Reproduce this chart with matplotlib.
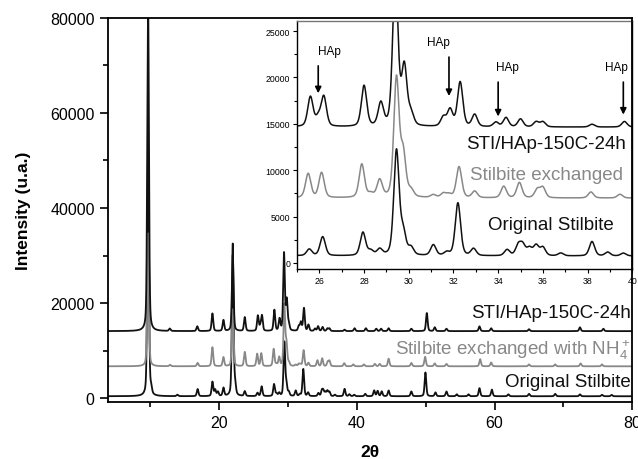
import numpy as np
import matplotlib
matplotlib.use("Agg")
import matplotlib.pyplot as plt
from matplotlib.ticker import MultipleLocator

plt.rcParams['font.family'] = ['Liberation Sans', 'DejaVu Sans']
plt.rcParams['mathtext.default'] = 'regular'

# peak positions (2theta, deg) and heights (counts above baseline)
orig_pos = [9.65, 10.1, 13.9, 16.85, 19.0, 19.4, 19.8, 20.6, 21.95, 22.3, 23.7, 25.55, 26.15,
            27.95, 28.3, 28.7, 29.45, 29.75, 30.1, 31.1, 31.7, 32.2, 32.9, 34.4, 34.9, 35.1,
            35.4, 35.7, 36.0, 36.8, 38.2, 38.9, 39.6, 41.2, 42.5, 43.0, 43.6, 44.6, 47.9,
            49.95, 51.4, 53.0, 54.5, 56.2, 57.8, 59.6, 62.0, 65.0, 68.8, 72.4, 75.6, 77.0]
orig_h = [52000, 1200, 300, 1500, 3000, 1300, 900, 1700, 32000, 2000, 1000, 700, 2050,
          2500, 500, 650, 11300, 2400, 800, 1150, 350, 5700, 750, 650, 1100, 1100,
          800, 1100, 900, 300, 1550, 400, 300, 500, 1200, 1100, 1000, 1200, 1000,
          5000, 800, 1000, 400, 400, 1700, 1400, 400, 500, 500, 400, 300, 300]

exch_pos = [9.65, 12.85, 16.85, 19.0, 20.6, 21.95, 23.7, 25.5, 26.1, 27.9, 28.3, 28.7, 29.45,
            29.75, 30.1, 31.1, 31.55, 31.8, 32.25, 32.95, 34.25, 34.95, 35.75, 36.0, 38.15,
            39.45, 41.0, 42.6, 43.3, 44.6, 47.9, 49.9, 51.3, 53.0, 57.9, 59.5, 65.0, 68.8,
            72.5, 75.6]
exch_h = [28000, 300, 700, 4000, 1900, 12000, 3000, 2600, 2700, 3600, 400, 1850, 12800,
          4600, 700, 300, 450, 350, 3350, 700, 1250, 1650, 900, 1100, 650,
          400, 400, 500, 500, 1600, 700, 2000, 600, 500, 1500, 800, 400, 400,
          600, 400]

sti_pos = [9.65, 12.8, 16.8, 19.0, 20.6, 21.95, 23.7, 25.6, 25.95, 26.2, 28.0, 28.75, 29.4,
           29.8, 30.1, 31.55, 31.85, 32.3, 32.95, 33.9, 34.35, 35.0, 35.7, 36.0, 38.2, 39.65,
           41.3, 42.8, 43.5, 44.6, 47.9, 50.15, 51.3, 53.0, 57.8, 59.5, 65.0, 72.4, 75.8]
sti_h = [70000, 500, 1000, 3700, 2300, 16000, 2900, 3200, 900, 3200, 4400, 2450, 16300,
         6300, 1300, 1000, 1800, 4800, 1300, 500, 1000, 850, 550, 550, 300, 600,
         600, 500, 500, 600, 500, 3800, 800, 500, 1000, 600, 400, 800, 500]

# vertical offsets of the stacked patterns (main plot / inset)
orig_base = [400, 750]
exch_base = [6700, 7000]
sti_base = [14100, 14650]

hap_pos = [25.95, 31.8, 34.0, 39.6]
hap_tip = [18000, 17700, 15500, 15700]

BLACK = '#111111'
GREY = '#888888'

two_theta = np.linspace(3.5, 80, 7651)


def pattern(pos, heights, fwhm=0.28, eta=0.35):
    y = np.zeros_like(two_theta)
    for p, h in zip(pos, heights):
        d = (two_theta - p) / (fwhm / 2)
        y += h * (eta / (1 + d ** 2) + (1 - eta) * np.exp(-np.log(2) * d ** 2))
    return y


orig = pattern(orig_pos, orig_h)
exch = pattern(exch_pos, exch_h)
sti = pattern(sti_pos, sti_h)

fig = plt.figure(figsize=(6.38, 4.6), dpi=100)
ax = fig.add_axes([0.169, 0.124, 0.822, 0.835])
ins = fig.add_axes([0.4655, 0.413, 0.5255, 0.539])
ax.set_zorder(2)
ax.patch.set_visible(False)
ins.set_zorder(1)

# main plot
ax.plot(two_theta, orig + orig_base[0], color=BLACK, lw=1.3)
ax.plot(two_theta, exch + exch_base[0], color=GREY, lw=1.3)
ax.plot(two_theta, sti + sti_base[0], color=BLACK, lw=1.3)
ax.set_xlim(3.8, 80)
ax.set_ylim(-800, 80000)
ax.xaxis.set_major_locator(MultipleLocator(20))
ax.xaxis.set_minor_locator(MultipleLocator(10))
ax.yaxis.set_major_locator(MultipleLocator(20000))
ax.yaxis.set_minor_locator(MultipleLocator(10000))
ax.tick_params(which='major', direction='out', length=6, width=1.2, labelsize=11.5)
ax.tick_params(which='minor', direction='out', length=3.5, width=1.2)
for s in ax.spines.values():
    s.set_linewidth(1.3)
ax.set_xlabel('2θ', fontsize=12.5, fontweight='bold', labelpad=10)
ax.set_ylabel('Intensity (u.a.)', fontsize=12.5, fontweight='bold', labelpad=14)

ax.text(79.85, 18100, 'STI/HAp-150C-24h', ha='right', va='center', fontsize=13.5, color=BLACK)
ax.text(79.85, 10300, 'Stilbite exchanged with NH$_4^+$', ha='right', va='center',
        fontsize=13.5, color=GREY)
ax.text(79.85, 3600, 'Original Stilbite', ha='right', va='center', fontsize=13.5, color=BLACK)

# inset
ins.plot(two_theta, orig + orig_base[1], color=BLACK, lw=1.1)
ins.plot(two_theta, exch + exch_base[1], color=GREY, lw=1.1)
ins.plot(two_theta, sti + sti_base[1], color=BLACK, lw=1.1)
ins.set_xlim(25, 40)
ins.set_ylim(-650, 26080)
ins.xaxis.set_major_locator(MultipleLocator(2))
ins.xaxis.set_minor_locator(MultipleLocator(1))
ins.yaxis.set_major_locator(MultipleLocator(5000))
ins.yaxis.set_minor_locator(MultipleLocator(2500))
ins.tick_params(which='major', direction='out', length=3, width=0.8, labelsize=6.3, pad=2)
ins.tick_params(which='minor', direction='out', length=2, width=0.8)
for s in ins.spines.values():
    s.set_linewidth(1.0)
ins.spines['top'].set_color('#777777')

ins.text(39.71, 12930, 'STI/HAp-150C-24h', ha='right', va='center', fontsize=13.5, color=BLACK)
ins.text(39.58, 9590, 'Stilbite exchanged', ha='right', va='center', fontsize=13.5, color=GREY)
ins.text(39.18, 4100, 'Original Stilbite', ha='right', va='center', fontsize=13.5, color=BLACK)

hap_text = [(25.95, 22850, 'left'), (31.85, 23800, 'right'), (33.9, 21100, 'left'), (39.8, 21100, 'right')]
for p, tip, (tx, ty, ha) in zip(hap_pos, hap_tip, hap_text):
    ins.annotate('', xy=(p, tip), xytext=(p, ty - 1300),
                 arrowprops=dict(arrowstyle='-|>', color='k', lw=1.2, mutation_scale=9))
    ins.text(tx, ty, 'HAp', ha=ha, va='center', fontsize=8.5)

fig.savefig('out.png', dpi=100)
